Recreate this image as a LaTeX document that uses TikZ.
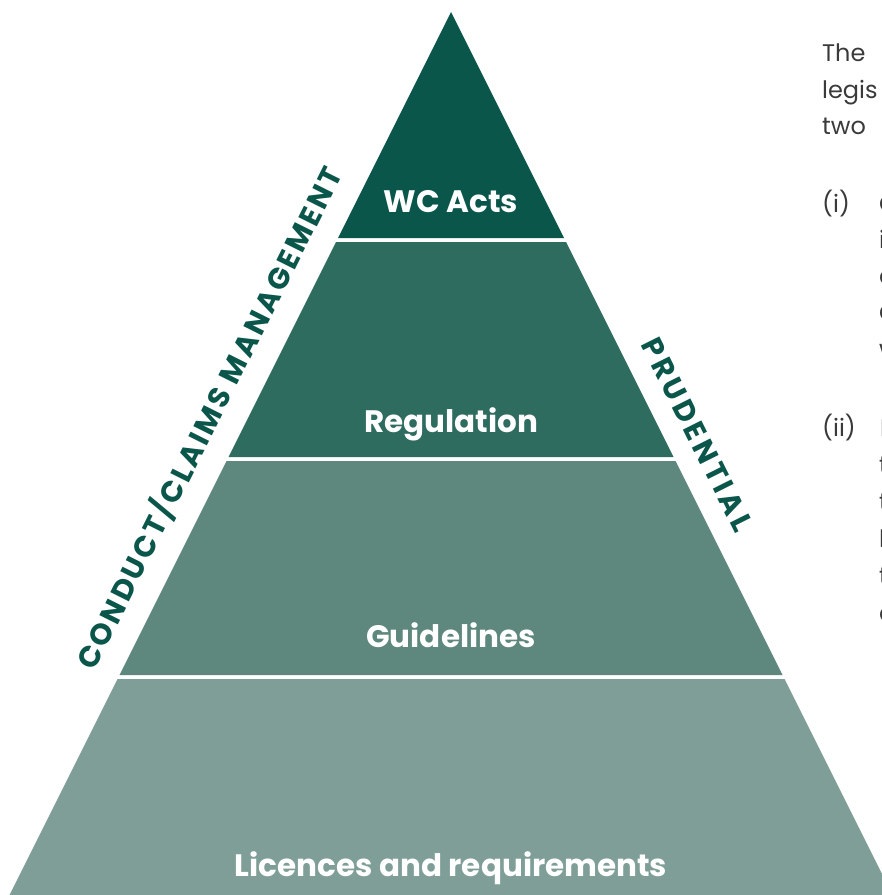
\documentclass[tikz,border=0pt]{standalone}
\usepackage{fontspec}
\setmainfont{Poppins}
\definecolor{bandA}{HTML}{0B564A}
\definecolor{bandB}{HTML}{2E6C60}
\definecolor{bandC}{HTML}{5E877D}
\definecolor{bandD}{HTML}{7F9E97}
\definecolor{bodytext}{HTML}{3A3A3A}
\begin{document}
\begin{tikzpicture}[x=1pt,y=-1pt,
 bandlabel/.style={text=white,font=\bfseries\fontsize{31}{31}\selectfont,inner sep=0pt,anchor=base},
 sidelabel/.style={text=bandA,inner sep=0pt,anchor=base},
 bodyline/.style={text=bodytext,font=\fontsize{24}{24}\selectfont,inner sep=0pt,anchor=base west}]
\path[use as bounding box] (0,0) rectangle (882,895);
\clip (0,0) rectangle (882,895);
% bands
\fill[bandA] (451,12) -- ({451-0.5*226},238) -- ({451+0.5*226},238) -- cycle;
\fill[bandB] ({451-0.5*230},242) -- ({451+0.5*230},242) -- ({451+0.5*445},457) -- ({451-0.5*445},457) -- cycle;
\fill[bandC] ({451-0.5*449},461) -- ({451+0.5*449},461) -- ({451+0.5*663},675) -- ({451-0.5*663},675) -- cycle;
\fill[bandD] ({451-0.5*667},679) -- ({451+0.5*667},679) -- ({451+0.5*920},932) -- ({451-0.5*920},932) -- cycle;
% band labels
\node[bandlabel] (acts) at (451,212) {WC Acts};
\node[bandlabel] (reg) at (451,432) {Regulation};
\node[bandlabel] (guide) at (451,647) {Guidelines};
\node[bandlabel] (lic) at (451,876) {Licences and requirements};
% side labels
\node[sidelabel,rotate=63.435,font=\bfseries\fontsize{29.5}{29.5}\selectfont\addfontfeatures{LetterSpace=9}] (conduct) at (218.8,422.7) {CONDUCT/CLAIMS MANAGEMENT};
\node[sidelabel,rotate=-63.435,font=\bfseries\fontsize{29.5}{29.5}\selectfont\addfontfeatures{LetterSpace=12}] (prud) at (688.2,439.3) {PRUDENTIAL};
% body text (cut at the right edge)
\node[bodyline] (t1) at (822,61) {The};
\node[bodyline] (t2) at (822,98) {legis};
\node[bodyline] (t3) at (822,134) {two};
\node[bodyline] (i0) at (822,212) {(i)};
\node[bodyline] (i1) at (879,212) {C};
\node[bodyline] (i2) at (879,248) {i};
\node[bodyline] (i3) at (879,284) {c};
\node[bodyline] (i4) at (879,321) {C};
\node[bodyline] (i5) at (879,357) {w};
\node[bodyline] (ii0) at (822,436) {(ii)};
\node[bodyline] (ii1) at (880,436) {I};
\node[bodyline] (ii2) at (879,473) {t};
\node[bodyline] (ii3) at (879,510) {t};
\node[bodyline] (ii4) at (879,547) {l};
\node[bodyline] (ii5) at (879,584) {t};
\node[bodyline] (ii6) at (879,621) {c};
\end{tikzpicture}
\end{document}
